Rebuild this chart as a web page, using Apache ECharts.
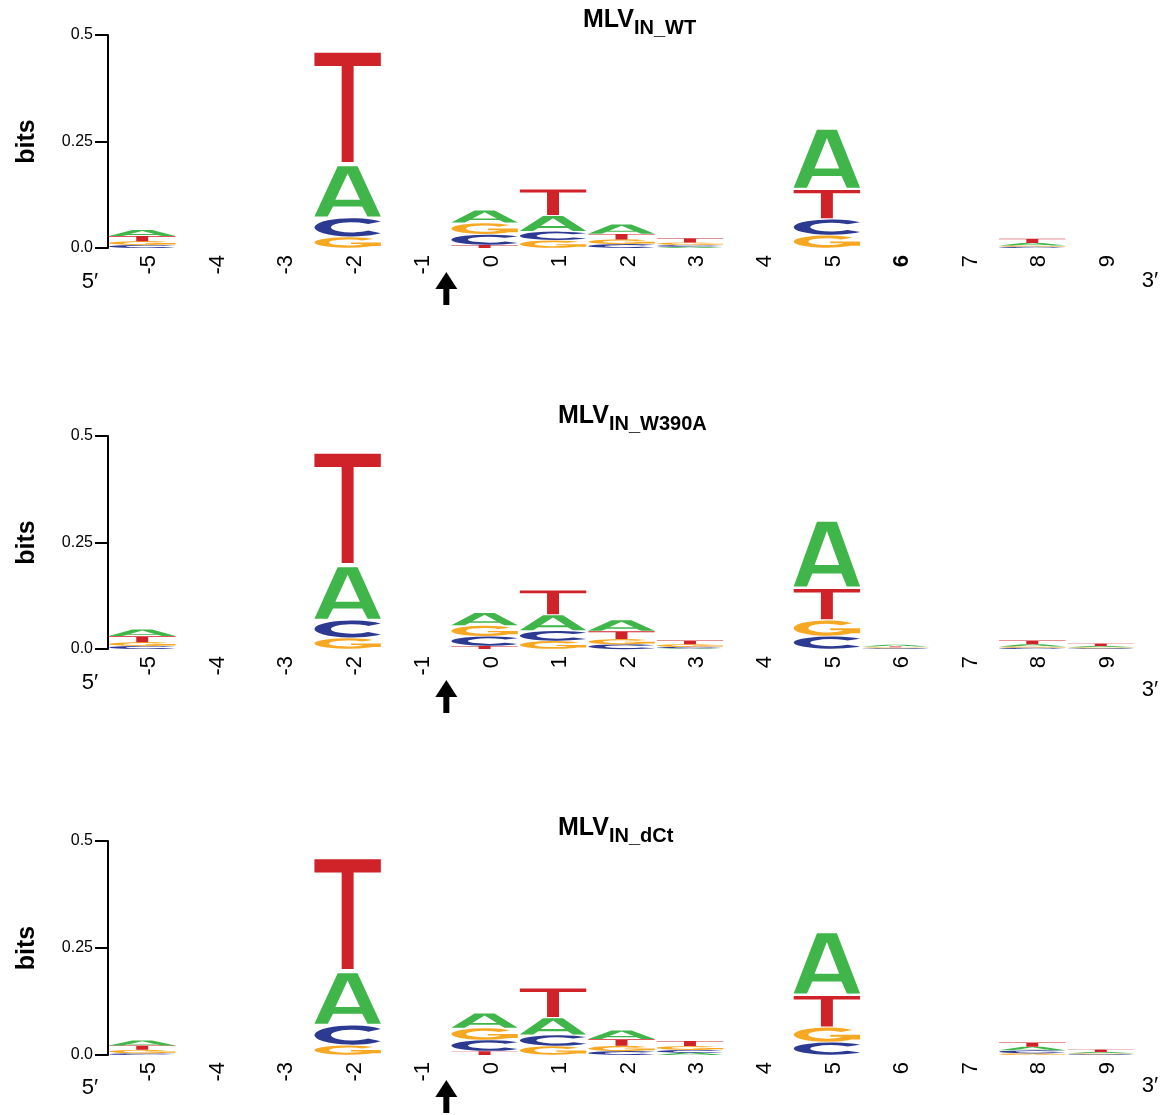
<!DOCTYPE html>
<html>
<head>
<meta charset="utf-8">
<script src="https://cdn.jsdelivr.net/npm/echarts@6/dist/echarts.min.js"></script>
<style>
html,body{margin:0;padding:0;background:#fff;}
#c{width:1167px;height:1115px;}
</style>
</head>
<body>
<div id="c"></div>
<script>
// ---- data (bits per nucleotide at each position) ----
const positions = ['-5','-4','-3','-2','-1','0','1','2','3','4','5','6','7','8','9'];
const letters = ['A','C','G','T'];
const yTicks = [0, 0.25, 0.5];

const wtA = [0.014, 0, 0, 0.124, 0, 0.030, 0.037, 0.023, 0.003, 0, 0.143, 0, 0, 0.006, 0];
const wtC = [0.007, 0, 0, 0.045, 0, 0.025, 0.021, 0.009, 0.004, 0, 0.038, 0, 0, 0.003, 0];
const wtG = [0.009, 0, 0, 0.026, 0, 0.027, 0.018, 0.011, 0.006, 0, 0.030, 0, 0, 0.003, 0];
const wtT = [0.012, 0, 0, 0.270, 0, 0.007, 0.063, 0.013, 0.010, 0, 0.070, 0, 0, 0.010, 0];

const w390aA = [0.016, 0, 0, 0.127, 0, 0.030, 0.037, 0.026, 0.002, 0, 0.160, 0.004, 0, 0.005, 0.003];
const w390aC = [0.007, 0, 0, 0.042, 0, 0.023, 0.024, 0.011, 0.003, 0, 0.030, 0.002, 0, 0.003, 0.002];
const w390aG = [0.009, 0, 0, 0.026, 0, 0.025, 0.019, 0.012, 0.006, 0, 0.038, 0.002, 0, 0.003, 0.002];
const w390aT = [0.014, 0, 0, 0.270, 0, 0.007, 0.059, 0.019, 0.009, 0, 0.075, 0.002, 0, 0.009, 0.006];

const dctA = [0.012, 0, 0, 0.124, 0, 0.035, 0.040, 0.021, 0.005, 0, 0.148, 0, 0, 0.008, 0.003];
const dctC = [0.004, 0, 0, 0.047, 0, 0.026, 0.026, 0.009, 0.007, 0, 0.030, 0, 0, 0.007, 0.002];
const dctG = [0.008, 0, 0, 0.023, 0, 0.028, 0.021, 0.012, 0.009, 0, 0.035, 0, 0, 0.004, 0.002];
const dctT = [0.010, 0, 0, 0.270, 0, 0.009, 0.070, 0.016, 0.012, 0, 0.075, 0, 0, 0.010, 0.006];

const panelNames = ['IN_WT', 'IN_W390A', 'IN_dCt'];
// ---- end data ----

const COLORS = {A: '#3fb54a', C: '#2c3a92', G: '#f7a823', T: '#cf2229'};
const GLYPHS = {
  A: 'M0,100 L35,0 L65,0 L100,100 L80,100 L72,80 L28,80 L20,100 Z M31.5,67 L68.5,67 L50,14.3 Z',
  C: 'M88.3,17.9 A50,50 0 1,0 88.3,82.1 L71.4,68 A28,28 0 1,1 71.4,32 Z',
  G: 'M88.3,17.9 A50,50 0 1,0 99.2,58.7 L77.6,54.9 A28,28 0 1,1 71.4,32 Z M100,50 L55,50 L55,64 L78,64 L78,84 L100,84 Z',
  T: 'M0,0 L100,0 L100,12 L59,12 L59,100 L41,100 L41,12 L0,12 Z'
};

const panels = [
  {A: wtA, C: wtC, G: wtG, T: wtT},
  {A: w390aA, C: w390aC, G: w390aG, T: w390aT},
  {A: dctA, C: dctC, G: dctG, T: dctT}
];

const FONT = 'Liberation Sans, Arial, Helvetica, sans-serif';
const gridTops = [35, 436, 841];
const gridHeights = [213, 213, 214];
const titleTops = [8, 404, 816];
const titleLefts = [583, 558, 558];
const arrowOff = [24, 31, 25];
const primeOff5 = [34, 34, 33];
const primeOff3 = [33, 41, 31];

function stackData(p) {
  const out = [];
  positions.forEach((pos, i) => {
    const items = letters.map((L, li) => ({L, li, h: p[L][i]})).filter(d => d.h > 0);
    items.sort((a, b) => a.h - b.h);
    let base = 0;
    items.forEach(d => {
      out.push([i, base, d.h, d.li]);
      base += d.h;
    });
  });
  return out;
}

function renderLetter(params, api) {
  const xi = api.value(0), base = api.value(1), h = api.value(2), li = api.value(3);
  const L = letters[li];
  const top = api.coord([xi, base + h]);
  const bot = api.coord([xi, base]);
  const bw = api.size([1, 0])[0];
  const w = bw * 0.97;
  const hh = bot[1] - top[1];
  const pad = hh > 6 ? hh * 0.025 : 0;
  return {
    type: 'path',
    shape: {pathData: GLYPHS[L], x: top[0] - w / 2, y: top[1] + pad, width: w, height: Math.max(hh - 2 * pad, 0.01), layout: 'cover'},
    style: {fill: COLORS[L]}
  };
}

function makeAnnot(pi) {
  return function (params, api) {
    const a = api.coord([4, 0]);
    const b = api.coord([5, 0]);
    const first = api.coord([0, 0]);
    const last = api.coord([positions.length - 1, 0]);
    const bw = api.size([1, 0])[0];
    const y0 = a[1];
    const cx = (a[0] + b[0]) / 2 - 4;
    const t = y0 + arrowOff[pi];
    return {
      type: 'group',
      children: [
        {type: 'polygon', shape: {points: [[cx, t], [cx + 11, t + 17], [cx + 3, t + 17], [cx + 3, t + 33], [cx - 3, t + 33], [cx - 3, t + 17], [cx - 11, t + 17]]}, style: {fill: '#000'}},
        {type: 'text', x: first[0] - bw / 2 - 18, y: y0 + primeOff5[pi], style: {text: '5\u2032', fontSize: 22, fontFamily: FONT, fill: '#000', align: 'center', verticalAlign: 'middle'}},
        {type: 'text', x: last[0] + bw / 2 + 15, y: y0 + primeOff3[pi], style: {text: '3\u2032', fontSize: 22, fontFamily: FONT, fill: '#000', align: 'center', verticalAlign: 'middle'}}
      ]
    };
  };
}

const option = {
  animation: false,
  backgroundColor: '#fff',
  textStyle: {fontFamily: FONT},
  title: panelNames.map((n, i) => ({
    text: '{m|MLV}{s|' + n + '}',
    left: titleLefts[i],
    top: titleTops[i],
    padding: 0,
    textStyle: {
      rich: {
        m: {fontSize: 25, fontWeight: 'bold', fontFamily: FONT, color: '#000', lineHeight: 25, verticalAlign: 'top'},
        s: {fontSize: 20, fontWeight: 'bold', fontFamily: FONT, color: '#000', lineHeight: 20, verticalAlign: 'top', padding: [10, 0, 0, 0]}
      }
    }
  })),
  grid: gridTops.map((t, i) => ({left: 108, top: t, width: 1027, height: gridHeights[i], outerBoundsMode: 'none', containLabel: false})),
  xAxis: gridTops.map((t, i) => ({
    type: 'category',
    gridIndex: i,
    data: positions,
    axisLine: {show: false},
    axisTick: {show: false},
    splitLine: {show: false},
    axisLabel: {
      interval: 0, rotate: 90, fontSize: 22, color: '#000', margin: 7, fontFamily: FONT,
      padding: [14, 0, 0, 0],
      formatter: (v) => (i === 0 && v === '6') ? '{b|6}' : v,
      rich: {b: {fontSize: 22, fontWeight: 'bold', color: '#000', fontFamily: FONT}}
    }
  })),
  yAxis: gridTops.map((t, i) => ({
    type: 'value',
    gridIndex: i,
    min: yTicks[0],
    max: yTicks[yTicks.length - 1],
    interval: yTicks[1] - yTicks[0],
    name: 'bits',
    nameLocation: 'middle',
    nameGap: 68,
    nameRotate: 90,
    nameTextStyle: {fontSize: 25, fontWeight: 'bold', color: '#000', fontFamily: FONT},
    axisLine: {show: true, lineStyle: {color: '#000', width: 2}},
    axisTick: {show: true, length: 13, lineStyle: {color: '#000', width: 2}},
    splitLine: {show: false},
    axisLabel: {fontSize: 16, color: '#000', margin: 15, fontFamily: FONT, formatter: (v) => v === 0 ? '0.0' : String(v)}
  })),
  series: []
};

panels.forEach((p, i) => {
  option.series.push({
    type: 'custom',
    xAxisIndex: i,
    yAxisIndex: i,
    renderItem: renderLetter,
    encode: {x: 0, y: 1},
    data: stackData(p),
    clip: false
  });
  option.series.push({
    type: 'custom',
    xAxisIndex: i,
    yAxisIndex: i,
    renderItem: makeAnnot(i),
    encode: {x: 0, y: 1},
    data: [[0, 0]],
    clip: false,
    silent: true
  });
});

const chart = echarts.init(document.getElementById('c'));
chart.setOption(option);
</script>
</body>
</html>
